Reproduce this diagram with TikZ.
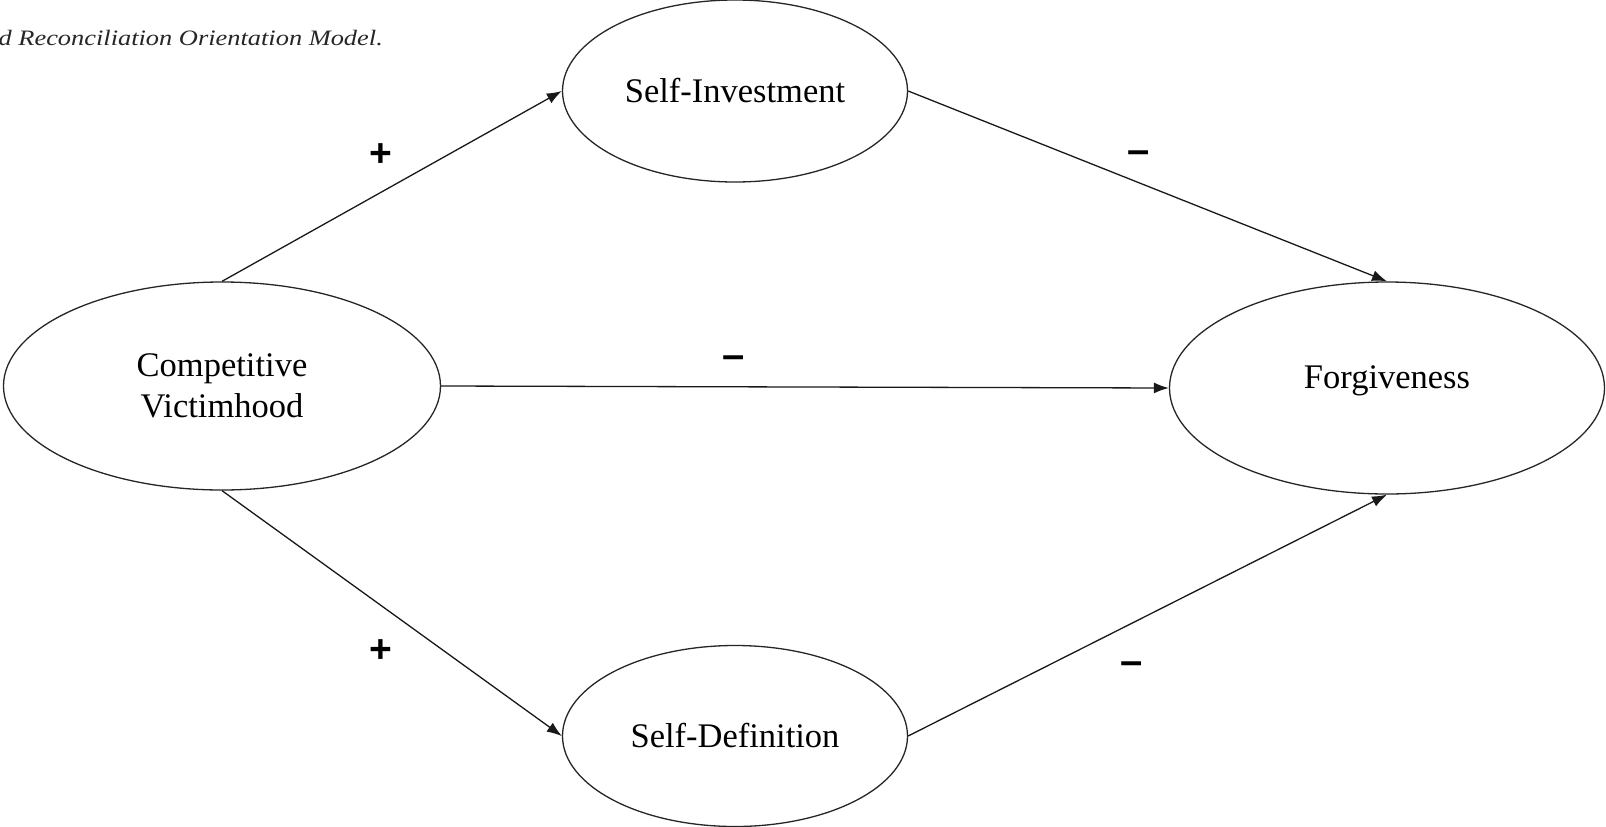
\documentclass[tikz,border=0pt]{standalone}
\usepackage{fontspec}
\usepackage{graphicx}
\setmainfont{Liberation Serif}
\newfontfamily\capfont[FakeStretch=1.2]{Liberation Serif}
\newfontfamily\signfont{Liberation Sans}
\usetikzlibrary{shapes.geometric,arrows.meta}
\begin{document}
\begin{tikzpicture}[x=1pt,y=-1pt,
  latent/.style={draw=black!85,line width=1.3pt,ellipse,inner sep=0pt,
    font=\fontsize{34.5}{41}\selectfont,align=center},
  path/.style={draw=black!90,line width=1.3pt,-{Latex[length=15pt,width=11pt]}},
  plus/.style={font=\signfont\fontsize{39}{40}\selectfont\bfseries,inner sep=0pt},
  minus/.style={font=\signfont\fontsize{40}{42}\selectfont\bfseries,inner sep=0pt}]
\useasboundingbox (0,0) rectangle (1606,827);
\fill[white] (0,0) rectangle (1606,827);

% caption line, running off the left edge
\node[anchor=base east,inner sep=0pt,font=\capfont\fontsize{22}{26}\selectfont\itshape,text=black!85]
  (cap) at (383,45) {d Reconciliation Orientation Model.};

% constructs
\node[latent,minimum width=437pt,minimum height=208pt] (cv) at (222,386) {Competitive\\Victimhood};
\node[latent,minimum width=345pt,minimum height=182pt] (si) at (735,91) {Self-Investment};
\node[latent,minimum width=345pt,minimum height=181pt] (sd) at (735,736) {Self-Definition};
\node[latent,minimum width=435pt,minimum height=212pt] (fg) at (1387,388) {};
\node[font=\fontsize{34.5}{41}\selectfont] (fgt) at (1387,381) {Forgiveness};

% paths
\draw[path] (cv.north) -- (si.west);
\draw[path] (si.east) -- (fg.north);
\draw[path] (cv.east) -- (fg.west);
\draw[path] (cv.south) -- (sd.west);
\draw[path] (sd.east) -- (fg.south);

% signs of the effects
\node[plus] (s1) at (381,155) {+};
\node[minus] (s2) at (1139,157) {–};
\node[minus] (s3) at (734,362) {–};
\node[plus] (s4) at (381,651) {+};
\node[minus] (s5) at (1132,668) {–};
\end{tikzpicture}
\end{document}
